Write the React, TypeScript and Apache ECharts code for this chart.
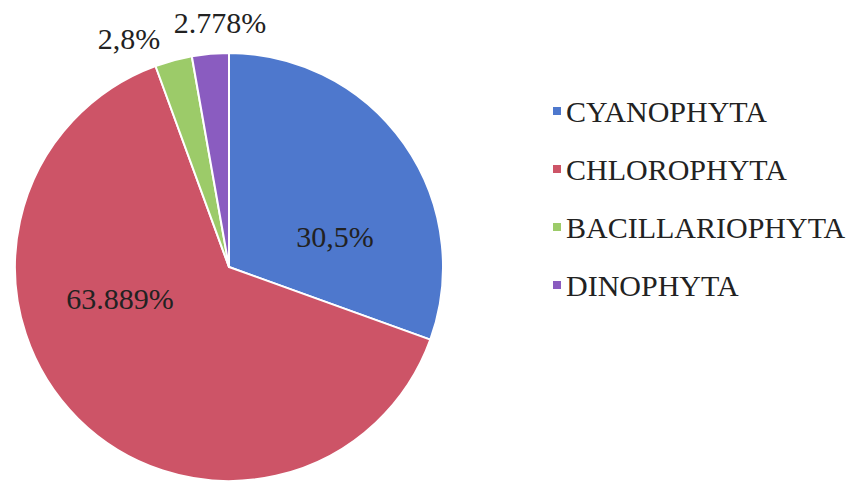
import React, { useEffect, useRef } from "react";
import * as echarts from "echarts";

const categories = ["CYANOPHYTA", "CHLOROPHYTA", "BACILLARIOPHYTA", "DINOPHYTA"];
const values = [30.5, 63.889, 2.8, 2.778];
const labelTexts = ["30,5%", "63.889%", "2,8%", "2.778%"];
const colors = ["#4E78CD", "#CD5467", "#9CCB69", "#8A5CC0"];
const labelPos = [
  [335, 236],
  [120, 298],
  [129, 38],
  [220, 22],
];

export default function App() {
  const ref = useRef<HTMLDivElement>(null);
  useEffect(() => {
    document.body.style.margin = "0";
    const chart = echarts.init(ref.current!, null, { renderer: "svg" });
    const font = "serif";
    chart.setOption({
      animation: false,
      backgroundColor: "#ffffff",
      textStyle: { fontFamily: font },
      legend: {
        orient: "vertical",
        left: 546,
        top: 91,
        icon: "rect",
        itemWidth: 10,
        itemHeight: 10,
        itemGap: 28,
        textStyle: { fontFamily: font, fontSize: 30, color: "#222", lineHeight: 30, padding: [0, 0, 0, -1] },
        data: categories,
      },
      series: [
        {
          type: "pie",
          center: [229, 267],
          radius: 214,
          startAngle: 90,
          clockwise: true,
          itemStyle: { borderColor: "#ffffff", borderWidth: 2 },
          label: {
            show: true,
            position: "inside",
            fontFamily: font,
            fontSize: 30,
            color: "#222",
            formatter: (p: any) => labelTexts[p.dataIndex],
          },
          labelLine: { show: false },
          labelLayout: (p: any) => ({
            x: labelPos[p.dataIndex][0],
            y: labelPos[p.dataIndex][1],
            align: "center",
            verticalAlign: "middle",
          }),
          emphasis: { disabled: true },
          data: categories.map((c, i) => ({
            name: c,
            value: values[i],
            itemStyle: { color: colors[i] },
          })),
        },
      ],
    });
    return () => chart.dispose();
  }, []);
  return <div ref={ref} style={{ width: 865, height: 485 }} />;
}
